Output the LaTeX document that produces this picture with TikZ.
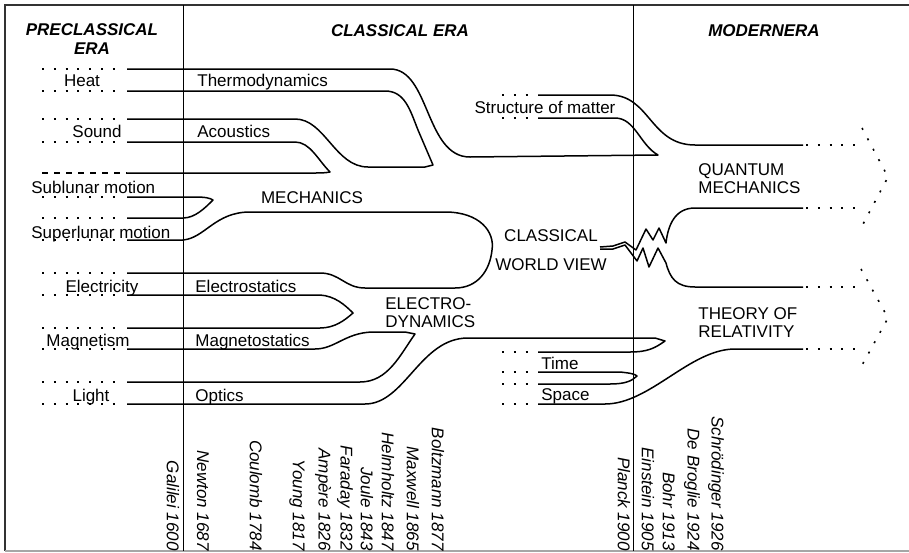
\documentclass[tikz,border=0pt]{standalone}
\usepackage{fontspec}
\setmainfont{Liberation Sans}
\begin{document}
\begin{tikzpicture}[
    x=0.5pt, y=-0.5pt,
    flow/.style={line width=0.75pt, line join=round},
    dots/.style={line width=0.8pt, dash pattern=on 1pt off 4.9pt},
    dashes/.style={line width=0.75pt, dash pattern=on 3pt off 3pt},
    lbl/.style={inner sep=0pt, anchor=base, font=\fontsize{8.5}{9}\selectfont},
    lblw/.style={lbl, anchor=base west},
    big/.style={inner sep=0pt, align=left, font=\fontsize{8.5}{9}\selectfont},
    era/.style={inner sep=0pt, anchor=base, font=\fontsize{8.5}{9.5}\selectfont\bfseries\itshape},
    who/.style={inner sep=0pt, rotate=-90, anchor=east, font=\fontsize{8.5}{10}\selectfont\itshape}
  ]
  \useasboundingbox (0,0) rectangle (909,552);

  % frame and era dividers
  \draw[line width=0.9pt, black!80] (909,5) -- (5,5) -- (5,551);
  \draw[line width=0.7pt, black!35] (5,551) -- (909,551);
  \draw[line width=0.5pt] (183,5) -- (183,551);
  \draw[line width=0.5pt] (633,5) -- (633,551);

  % era titles
  \node[era, align=center, anchor=north] (pre) at (92,23) {PRECLASSICAL\\ERA};
  \node[era] (cla) at (400,36) {CLASSICAL ERA};
  \node[era] (mod) at (764,36) {MODERNERA};

  % loose ends on the left
  \foreach \yy in {69,91,119,142,197,218,240,273,295,328,349,382,404}
    \draw[dots] (42,\yy) -- (124,\yy);
  \draw[dashes] (42,173) -- (127,173);
  \foreach \yy in {95,118,352,372,384,404}
    \draw[dots] (502,\yy) -- (532,\yy);

  % streams
  \draw[flow] (127,69) -- (390,69) .. controls (430,69) and (425,157) .. (470,157)
    -- (658,155) .. controls (640,145) and (635,118) .. (615,118) -- (538,118);
  \draw[flow] (127,91) -- (385,91) .. controls (405,91) and (410,110) .. (418,130)
    -- (433,165) -- (425,167) -- (368,167) .. controls (335,167) and (325,119) .. (295,119) -- (127,119);
  \draw[flow] (127,142) -- (295,142) .. controls (310,142) and (318,160) .. (330,172)
    .. controls (325,173) and (320,173) .. (315,173) -- (127,173);
  \draw[flow] (127,197) -- (195,197) .. controls (205,197) and (210,198) .. (213,200)
    .. controls (205,208) and (195,218) .. (183,218) -- (127,218);
  \draw[flow] (127,240) -- (183,240) .. controls (205,238) and (215,212) .. (250,212)
    -- (445,212) .. controls (480,212) and (495,232) .. (492,250)
    .. controls (490,270) and (478,288) .. (455,288) -- (365,288)
    .. controls (345,288) and (340,273) .. (320,273) -- (127,273);
  \draw[flow] (127,295) -- (320,295) .. controls (335,296) and (345,305) .. (353,313)
    .. controls (345,320) and (335,328) .. (320,328) -- (127,328);
  \draw[flow] (127,349) -- (315,349) .. controls (335,349) and (345,333) .. (372,332)
    -- (405,332) -- (415,334) .. controls (400,355) and (388,382) .. (360,382) -- (127,382);
  \draw[flow] (127,404) -- (365,404) .. controls (405,404) and (420,338) .. (468,338)
    -- (655,338) -- (665,341) .. controls (655,348) and (648,352) .. (630,352) -- (538,352);
  \draw[flow] (538,372) -- (620,372) .. controls (630,373) and (635,374) .. (637,376)
    .. controls (632,381) and (625,384) .. (610,384) -- (538,384);
  \draw[flow] (538,404) -- (605,404) .. controls (650,404) and (690,349) .. (735,349) -- (803,349);
  \draw[flow] (538,95) -- (610,95) .. controls (650,95) and (650,145) .. (695,145) -- (803,145);

  % the break of the classical world view
  \draw[flow] (600,247) -- (613,246) -- (625,242) -- (636,250) -- (646,229) -- (653,240)
    -- (659,228) -- (666,243) .. controls (668,225) and (675,208) .. (695,208) -- (803,208);
  \draw[flow] (600,249) -- (613,249) -- (625,245) -- (637,261) -- (643,248) -- (649,267)
    -- (658,248) -- (666,263) .. controls (670,278) and (676,287) .. (695,287) -- (803,287);

  % open arrows to the right
  \draw[dots] (806,145) -- (858,145);
  \draw[dots] (806,208) -- (858,208);
  \draw[dots] (862,128) -- (888,177) -- (862,226);
  \draw[dots] (806,287) -- (858,287);
  \draw[dots] (806,349) -- (858,349);
  \draw[dots] (861,269) -- (888,318) -- (861,367);

  % labels
  \node[lbl] (heat) at (82,86) {Heat};
  \node[lblw] (thermo) at (197,86) {Thermodynamics};
  \node[lbl] (sound) at (97,137) {Sound};
  \node[lblw] (acou) at (197,137) {Acoustics};
  \node[lblw] (sub) at (31,193) {Sublunar motion};
  \node[lbl] (mech) at (312,203) {MECHANICS};
  \node[lblw] (sup) at (31,238) {Superlunar motion};
  \node[lbl] (elec) at (102,292) {Electricity};
  \node[lblw] (estat) at (195,292) {Electrostatics};
  \node[lbl] (magn) at (88,346) {Magnetism};
  \node[lblw] (mstat) at (195,346) {Magnetostatics};
  \node[lbl] (light) at (91,401) {Light};
  \node[lblw] (optics) at (195,401) {Optics};
  \node[big, anchor=north west] (edyn) at (385,297) {ELECTRO-\\DYNAMICS};
  \node[big, align=center, anchor=north] (cwv) at (551,229) {CLASSICAL\\[5.5pt]WORLD VIEW};
  \node[lbl] (matter) at (545,113) {Structure of matter};
  \node[lblw] (time) at (541,369) {Time};
  \node[lblw] (space) at (541,400) {Space};
  \node[big, anchor=north west] (qm) at (698,163) {QUANTUM\\MECHANICS};
  \node[big, anchor=north west] (rel) at (698,307) {THEORY OF\\RELATIVITY};

  % names and years
  \foreach \xpos/\who in {173/Galilei 1600, 203/Newton 1687, 256/Coulomb 1784,
      297/Young 1817, 323/Ampère 1826, 345/Faraday 1832, 367/Joule 1843,
      388/Helmholtz 1847, 413/Maxwell 1865, 438/Boltzmann 1877, 624/Planck 1900,
      648/Einstein 1905, 669/Bohr 1913, 692/De Broglie 1924, 716/Schrödinger 1926}
    \node[who] (y\xpos) at (\xpos,551) {\who};
\end{tikzpicture}
\end{document}
